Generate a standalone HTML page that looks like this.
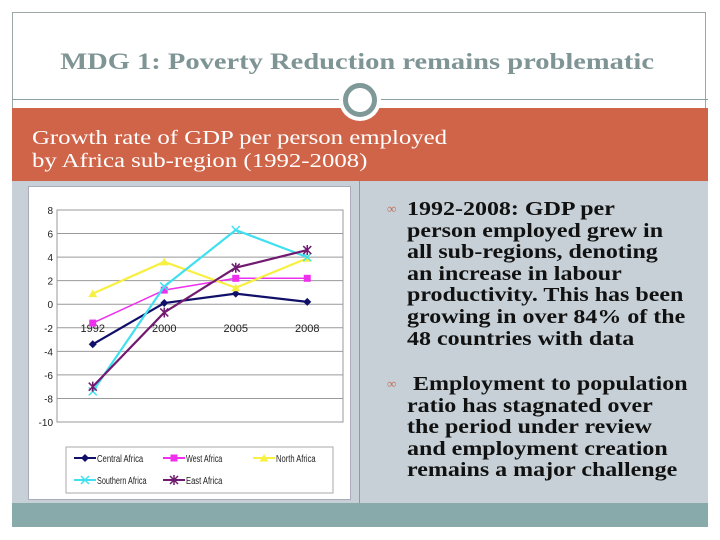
<!DOCTYPE html>
<html><head><meta charset="utf-8"><style>
body{margin:0;width:720px;height:540px;background:#fff;position:relative;overflow:hidden;font-family:"Liberation Serif",serif}
.a{position:absolute}
.bt{position:absolute;left:407px;font:bold 19.5px/21.6px "Liberation Serif",serif;color:#111;white-space:nowrap;transform:scaleX(1.23);transform-origin:0 0}
</style></head><body>
<div class="a" style="left:12px;top:12px;width:694px;height:514px;border:1px solid #9aa8a8;box-sizing:border-box"></div>
<div class="a" style="left:12px;top:49px;width:696px;text-align:center;font:bold 23px 'Liberation Serif',serif;color:#7f9494;transform:scaleX(1.24);transform-origin:360px 0">MDG 1: Poverty Reduction remains problematic</div>
<div class="a" style="left:12px;top:99px;width:696px;height:1px;background:#8aa0a0"></div>
<div class="a" style="left:12px;top:108px;width:696px;height:73px;background:#d06449"></div>
<div class="a" style="left:339px;top:79px;width:42px;height:42px;border-radius:50%;background:#fff"></div>
<div class="a" style="left:343px;top:83px;width:34px;height:34px;border-radius:50%;border:5px solid #7f9898;box-sizing:border-box"></div>
<div class="a" style="left:32px;top:127px;font:20px/23px 'Liberation Serif',serif;color:#fff;white-space:nowrap;transform:scaleX(1.24);transform-origin:0 0">Growth rate of GDP per person employed<br>by Africa sub-region (1992-2008)</div>
<div class="a" style="left:12px;top:181px;width:696px;height:322px;background:#c6d0d6"></div>
<div class="a" style="left:359px;top:181px;width:1px;height:322px;background:#8a9aa6"></div>
<div class="a" style="left:12px;top:503px;width:696px;height:24px;background:#88aaaa"></div>
<div class="a" style="left:28px;top:186px;width:321px;height:312px;background:#fff;border:1px solid #aab"></div>
<svg class="a" style="left:0;top:0" width="720" height="540" id="chart"></svg>
<div class="a" style="left:387px;top:201px;color:#c07060;font-size:13px">&#8734;</div>
<div class="bt" style="top:199px">1992-2008: GDP per<br>person employed grew in<br>all sub-regions, denoting<br>an increase in labour<br>productivity. This has been<br>growing in over 84% of the<br>48 countries with data</div>
<div class="a" style="left:387px;top:376px;color:#c07060;font-size:13px">&#8734;</div>
<div class="bt" style="top:374px">&nbsp;Employment to population<br>ratio has stagnated over<br>the period under review<br>and employment creation<br>remains a major challenge</div>
<script>
const categories=["1992","2000","2005","2008"];
const seriesNames=["Central Africa","West Africa","North Africa","Southern Africa","East Africa"];
const central=[-3.4,0.1,0.9,0.2];
const west=[-1.6,1.2,2.2,2.2];
const north=[0.9,3.6,1.4,3.9];
const southern=[-7.4,1.5,6.3,4.0];
const east=[-7.0,-0.7,3.1,4.6];
const yTicks=[8,6,4,2,0,-2,-4,-6,-8,-10];
const colors=["#10106a","#ee30ee","#f8f040","#40e0f0","#701a70"];
const markers=["diamond","square","triangle","x","star"];
const svg=document.getElementById('chart');
const NS="http://www.w3.org/2000/svg";
const X0=57,X1=343,Y0=210,Y1=422,YMAX=8,YMIN=-10;
const x=i=>X0+(i+0.5)*(X1-X0)/categories.length;
const y=v=>Y0+(YMAX-v)*(Y1-Y0)/(YMAX-YMIN);
function mk(t,a){const e=document.createElementNS(NS,t);for(const k in a)e.setAttribute(k,a[k]);svg.appendChild(e);return e;}
yTicks.forEach(v=>{
 const g=mk('line',{x1:X0,x2:X1,y1:y(v),y2:y(v),stroke:'#999','stroke-width':1});
 
 
 const t=mk('text',{x:X0-4,y:y(v)+4,'text-anchor':'end','font-size':10,'font-family':'Liberation Sans, sans-serif',fill:'#222'});
 t.textContent=v;
 
 
});
const ax=mk('line',{x1:X0,x2:X0,y1:Y0,y2:Y1,stroke:'#888'});


const pb=mk('rect',{x:X0,y:Y0,width:X1-X0,height:Y1-Y0,fill:'none',stroke:'#999'});


categories.forEach((c,i)=>{
 const t=mk('text',{x:x(i),y:y(-2)+4,'text-anchor':'middle','font-size':11,'font-family':'Liberation Sans, sans-serif',fill:'#222'});
 t.textContent=c;
 
 
});
function marker(type,cx,cy,col,nm){
 let e;
 if(type=='diamond')e=mk('polygon',{points:`${cx},${cy-4} ${cx+4},${cy} ${cx},${cy+4} ${cx-4},${cy}`,fill:col});
 else if(type=='square')e=mk('rect',{x:cx-3.5,y:cy-3.5,width:7,height:7,fill:col});
 else if(type=='triangle')e=mk('polygon',{points:`${cx},${cy-4} ${cx+4.5},${cy+3.5} ${cx-4.5},${cy+3.5}`,fill:col});
 else if(type=='x')e=mk('path',{d:`M${cx-4} ${cy-4}L${cx+4} ${cy+4}M${cx+4} ${cy-4}L${cx-4} ${cy+4}`,stroke:col,'stroke-width':1.5});
 else e=mk('path',{d:`M${cx-4} ${cy-4}L${cx+4} ${cy+4}M${cx+4} ${cy-4}L${cx-4} ${cy+4}M${cx} ${cy-5}L${cx} ${cy+5}`,stroke:col,'stroke-width':1.5});
 
 
}
const all=[central,west,north,southern,east];
all.forEach((s,k)=>{
 const p=mk('polyline',{points:s.map((v,i)=>x(i)+','+y(v)).join(' '),fill:'none',stroke:colors[k],'stroke-width':k==1?1.5:2.2});
 
 
 s.forEach((v,i)=>marker(markers[k],x(i),y(v),colors[k],'data-point'));
});
const lb=mk('rect',{x:66,y:447,width:267,height:46,fill:'#fff',stroke:'#aaa'});


const lpos=[[74,458],[163,458],[253,458],[74,480],[163,480]];
seriesNames.forEach((n,k)=>{
 const [lx,ly]=lpos[k];
 const l=mk('line',{x1:lx,x2:lx+22,y1:ly,y2:ly,stroke:colors[k],'stroke-width':2});
 
 
 marker(markers[k],lx+11,ly,colors[k],'legend-marker');
 const t=mk('text',{x:lx+23,y:ly+4,'font-size':10,'font-family':'Liberation Sans, sans-serif',fill:'#222',textLength:n.length*3.3,lengthAdjust:'spacingAndGlyphs'});
 t.textContent=n;
 
 
});
</script>
</body></html>
